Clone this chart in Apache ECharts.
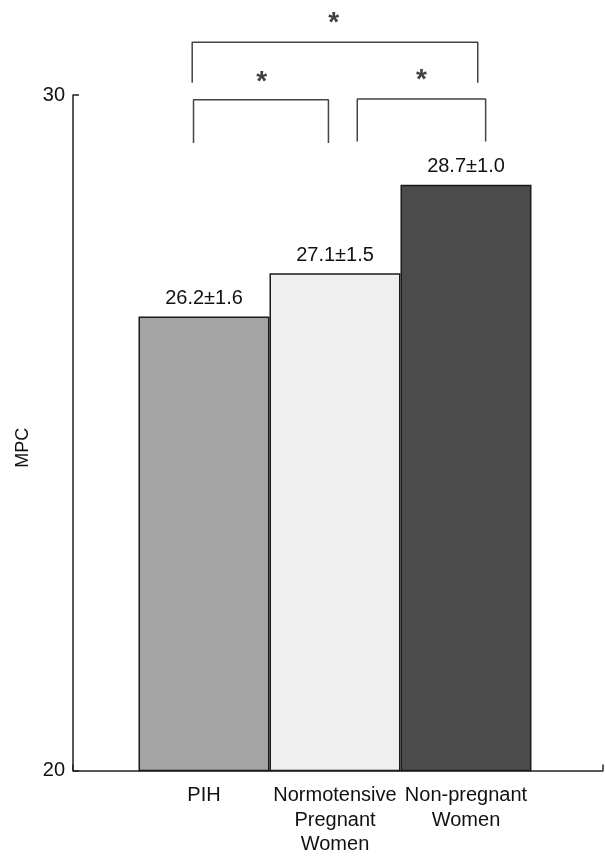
<!DOCTYPE html>
<html><head><meta charset="utf-8">
<script src="https://cdn.jsdelivr.net/npm/echarts@6/dist/echarts.min.js"></script>
<style>html,body{margin:0;padding:0;background:#fff}#c{width:605px;height:857px}</style>
</head><body><div id="c"></div>
<script>
// Data
const categories = ['PIH', 'Normotensive\nPregnant\nWomen', 'Non-pregnant\nWomen'];
const categoryPos = [1, 2, 3];
const barValues = [26.72, 27.36, 28.67];            // bar heights as drawn
const barLabels = ['26.2±1.6', '27.1±1.5', '28.7±1.0'];
const barColors = ['#a4a4a4', '#efefef', '#4b4b4b'];
const yTicks = [20, 30];
// significance brackets: [xStart, xEnd, yTop, yLegBottom]
const brackets = [
  [0.91, 3.09, 30.78, 30.18],
  [0.92, 1.95, 29.93, 29.29],
  [2.17, 3.15, 29.94, 29.31]
];
const stars = [[1.99, 31.15], [1.44, 30.28], [2.66, 30.30]];

const FONT = 'Liberation Sans, Arial, sans-serif';
const chart = echarts.init(document.getElementById('c'), null, {renderer: 'canvas'});

const bracketSeries = brackets.map(b => ({
  type: 'line', xAxisIndex: 0, yAxisIndex: 0, clip: false, silent: true,
  symbol: 'none', animation: false,
  lineStyle: {color: '#444', width: 1.5},
  data: [[b[0], b[3]], [b[0], b[2]], [b[1], b[2]], [b[1], b[3]]]
}));

chart.setOption({
  animation: false,
  backgroundColor: '#fff',
  grid: {left: 73, right: 2, top: 95, bottom: 85},
  xAxis: [
    {
      type: 'value', min: 0, max: 4.046, interval: 1,
      axisLine: {show: false}, axisTick: {show: false}, splitLine: {show: false},
      axisLabel: {
        margin: 13, color: '#111', fontFamily: FONT, fontSize: 20, lineHeight: 24.5,
        showMinLabel: false, showMaxLabel: false,
        formatter: v => { const i = categoryPos.indexOf(v); return i >= 0 ? categories[i] : ''; }
      }
    },
    {
      type: 'value', min: 0, max: 1, interval: 1, position: 'bottom',
      axisLine: {show: true, lineStyle: {color: '#222', width: 1.5}},
      axisTick: {show: true, inside: true, length: 6, lineStyle: {color: '#222', width: 1.5}},
      axisLabel: {show: false}, splitLine: {show: false}
    }
  ],
  yAxis: {
    type: 'value', min: yTicks[0], max: yTicks[1], interval: 10,
    name: 'MPC', nameLocation: 'middle', nameGap: 40, nameRotate: 90,
    nameTextStyle: {color: '#111', fontFamily: FONT, fontSize: 18, padding: [0, 30, 0, 0]},
    axisLine: {show: true, lineStyle: {color: '#222', width: 1.5}},
    axisTick: {show: true, inside: true, length: 6, lineStyle: {color: '#222', width: 1.5}},
    axisLabel: {margin: 8, color: '#111', fontFamily: FONT, fontSize: 20},
    splitLine: {show: false}
  },
  series: [
    {
      type: 'bar', xAxisIndex: 0, yAxisIndex: 0, barWidth: 131,
      data: barValues.map((v, i) => ({
        value: [categoryPos[i], v],
        itemStyle: {color: barColors[i]},
        label: {formatter: barLabels[i]}
      })),
      itemStyle: {borderColor: '#1a1a1a', borderWidth: 1.5},
      label: {show: true, position: 'top', distance: 8, color: '#111', fontFamily: FONT, fontSize: 20}
    },
    ...bracketSeries,
    {
      type: 'scatter', xAxisIndex: 0, yAxisIndex: 0, clip: false, silent: true,
      symbolSize: 0, data: stars,
      label: {show: true, position: 'inside', formatter: '*', color: '#111',
              fontFamily: FONT, fontSize: 28, fontWeight: 'bold', offset: [0, 6]}
    }
  ]
});
</script></body></html>
